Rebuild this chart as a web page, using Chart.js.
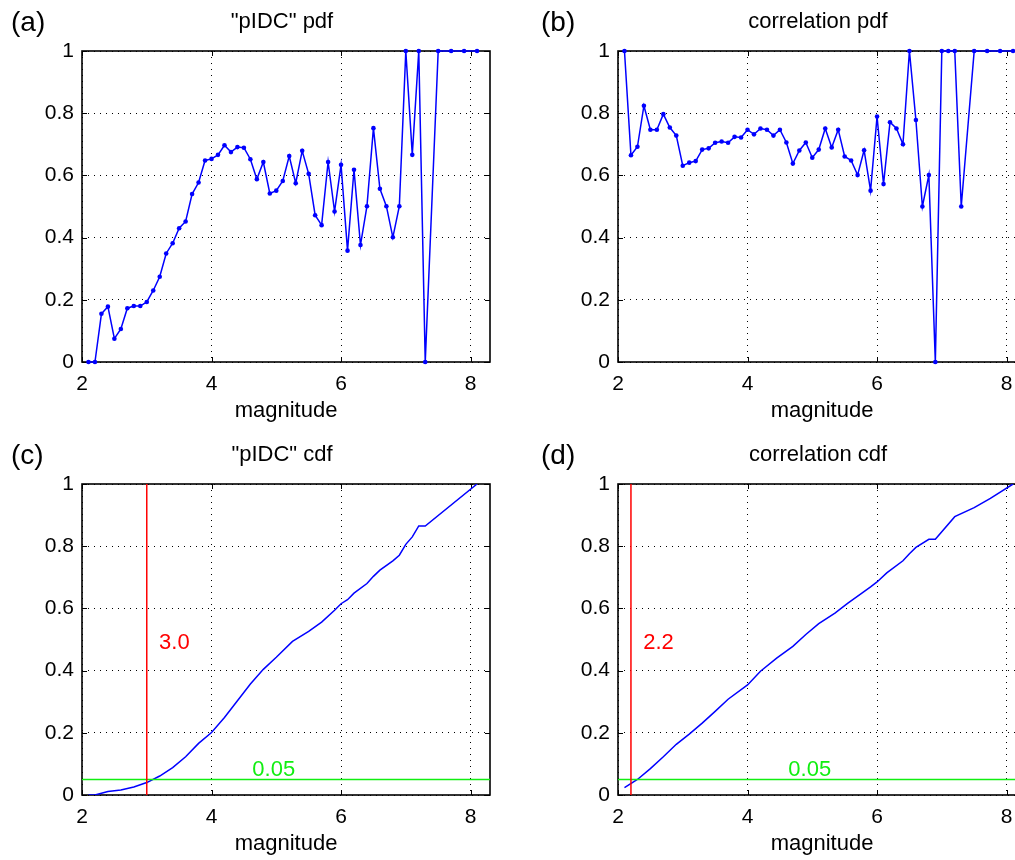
<!DOCTYPE html>
<html>
<head>
<meta charset="utf-8">
<script src="https://cdn.jsdelivr.net/npm/chart.js@4.4.0/dist/chart.umd.min.js"></script>
<style>
  html, body { margin: 0; padding: 0; background: #fff; overflow: hidden; }
  #page { position: relative; width: 1015px; height: 860px; overflow: hidden; }
  .panel { position: absolute; width: 510px; height: 430px; }
</style>
</head>
<body>
<div id="page">
  <div class="panel" style="left:0;top:0"><canvas id="pa"></canvas></div>
  <div class="panel" style="left:536px;top:0"><canvas id="pb"></canvas></div>
  <div class="panel" style="left:0;top:433px"><canvas id="pc"></canvas></div>
  <div class="panel" style="left:536px;top:433px"><canvas id="pd"></canvas></div>
</div>
<script>
// magnitude bins of the pdf panels (no values at 7.4, 7.6, 7.8, 8.0)
const magBins = [2.1, 2.2, 2.3, 2.4, 2.5, 2.6, 2.7, 2.8, 2.9,
  3.0, 3.1, 3.2, 3.3, 3.4, 3.5, 3.6, 3.7, 3.8, 3.9,
  4.0, 4.1, 4.2, 4.3, 4.4, 4.5, 4.6, 4.7, 4.8, 4.9,
  5.0, 5.1, 5.2, 5.3, 5.4, 5.5, 5.6, 5.7, 5.8, 5.9,
  6.0, 6.1, 6.2, 6.3, 6.4, 6.5, 6.6, 6.7, 6.8, 6.9,
  7.0, 7.1, 7.2, 7.3, 7.5, 7.7, 7.9, 8.1];

const pidcPdf = [0, 0, 0.155, 0.178, 0.075, 0.106, 0.173, 0.18, 0.18,
  0.193, 0.23, 0.274, 0.349, 0.382, 0.43, 0.452, 0.54, 0.577, 0.648,
  0.653, 0.666, 0.697, 0.675, 0.691, 0.689, 0.652, 0.588, 0.643, 0.542,
  0.551, 0.582, 0.662, 0.575, 0.679, 0.605, 0.472, 0.44, 0.643, 0.484,
  0.634, 0.358, 0.618, 0.376, 0.501, 0.752, 0.557, 0.501, 0.401, 0.501,
  1, 0.666, 1, 0, 1, 1, 1, 1];

const corrPdf = [1, 0.665, 0.692, 0.824, 0.747, 0.747, 0.797, 0.754, 0.728,
  0.631, 0.641, 0.646, 0.683, 0.687, 0.705, 0.709, 0.705, 0.724, 0.722,
  0.747, 0.732, 0.751, 0.747, 0.728, 0.747, 0.706, 0.638, 0.68, 0.706,
  0.657, 0.683, 0.751, 0.69, 0.747, 0.661, 0.648, 0.601, 0.681, 0.551,
  0.789, 0.572, 0.771, 0.751, 0.70, 1, 0.778, 0.5, 0.601, 0,
  1, 1, 1, 0.5, 1, 1, 1, 1];

// cdf curves
const pidcCdfMag = [2.1, 2.2, 2.4, 2.6, 2.8, 3.0, 3.2, 3.4, 3.6, 3.8, 4.0, 4.2, 4.4, 4.6, 4.8,
  5.0, 5.25, 5.5, 5.7, 5.9, 6.0, 6.1, 6.2, 6.4, 6.5, 6.6, 6.8, 6.9, 7.0, 7.1, 7.2, 7.3, 8.1];
const pidcCdf = [0, 0, 0.011, 0.016, 0.026, 0.04, 0.061, 0.088, 0.123, 0.166, 0.201, 0.249, 0.303, 0.357, 0.404,
  0.443, 0.494, 0.526, 0.556, 0.594, 0.615, 0.628, 0.649, 0.68, 0.703, 0.723, 0.753, 0.771, 0.806, 0.83, 0.865, 0.865, 1.0];

const corrCdfMag = [2.1, 2.3, 2.5, 2.7, 2.9, 3.1, 3.3, 3.5, 3.7, 4.0, 4.2, 4.45, 4.7, 4.9, 5.1,
  5.35, 5.55, 5.75, 5.9, 6.0, 6.15, 6.4, 6.5, 6.6, 6.8, 6.9, 7.2, 7.5, 7.75, 8.1];
const corrCdf = [0.024, 0.05, 0.085, 0.123, 0.163, 0.196, 0.231, 0.269, 0.308, 0.354, 0.398, 0.44, 0.478, 0.516, 0.551,
  0.585, 0.617, 0.647, 0.669, 0.685, 0.714, 0.753, 0.776, 0.796, 0.822, 0.822, 0.895, 0.924, 0.954, 1.0];

const pidcCut = 3.0;
const corrCut = 2.2;
const level = 0.05;

const xMin = 2, xMax = 8.3;
const BLUE = '#0000ff', RED = '#ff0000', GREEN = '#11ee11';
const FONT = '"Liberation Sans", Arial, Helvetica, sans-serif';

Chart.defaults.font.family = FONT;
Chart.defaults.color = '#000';

const toXY = (xs, ys) => xs.map((x, i) => ({x: x, y: ys[i]}));

// box, inward ticks, title, panel letter and text notes (matlab look)
const panelDecor = {
  id: 'panelDecor',
  beforeDatasetsDraw(chart) {
    const {ctx, chartArea: a, scales} = chart;
    ctx.save();
    ctx.strokeStyle = '#000';
    ctx.lineWidth = 1;
    ctx.beginPath();
    scales.x.ticks.forEach(t => {
      const px = Math.round(scales.x.getPixelForValue(t.value)) + 0.5;
      ctx.moveTo(px, a.bottom); ctx.lineTo(px, a.bottom - 5);
      ctx.moveTo(px, a.top); ctx.lineTo(px, a.top + 5);
    });
    scales.y.ticks.forEach(t => {
      const py = Math.round(scales.y.getPixelForValue(t.value)) + 0.5;
      ctx.moveTo(a.left, py); ctx.lineTo(a.left + 5, py);
      ctx.moveTo(a.right, py); ctx.lineTo(a.right - 5, py);
    });
    ctx.stroke();
    ctx.lineWidth = 1.6;
    ctx.strokeRect(a.left, a.top, a.right - a.left, a.bottom - a.top);
    ctx.restore();
  },
  afterDraw(chart, args, o) {
    const {ctx, chartArea: a, scales} = chart;
    ctx.save();
    ctx.fillStyle = '#000';
    ctx.textBaseline = 'middle';
    ctx.textAlign = 'center';
    ctx.font = '22px ' + FONT;
    ctx.fillText(o.title, (a.left + a.right) / 2 - 4, 22);
    ctx.textAlign = 'left';
    ctx.font = '28px ' + FONT;
    ctx.fillText(o.letter, a.left - o.letterGap, 23);
    ctx.textBaseline = 'alphabetic';
    ctx.font = '22px ' + FONT;
    (o.notes || []).forEach(n => {
      ctx.fillStyle = n.color;
      ctx.fillText(n.text, scales.x.getPixelForValue(n.x), scales.y.getPixelForValue(n.y));
    });
    ctx.restore();
  }
};

function makePanel(id, title, letter, letterGap, datasets, notes) {
  new Chart(document.getElementById(id), {
    type: 'line',
    data: {datasets: datasets},
    options: {
      responsive: true,
      maintainAspectRatio: false,
      animation: false,
      layout: {padding: {top: 51, right: 20, left: 0, bottom: 0}},
      plugins: {
        legend: {display: false},
        tooltip: {enabled: false},
        panelDecor: {title: title, letter: letter, letterGap: letterGap, notes: notes}
      },
      scales: {
        x: {
          type: 'linear',
          min: xMin, max: xMax,
          afterFit: s => { s.height = 68; },
          ticks: {stepSize: 2, includeBounds: false, padding: 10, font: {size: 21}},
          grid: {color: '#000', lineWidth: 1, drawTicks: false},
          border: {display: false, dash: [1, 5]},
          title: {display: true, text: 'magnitude', font: {size: 22, lineHeight: 1}, padding: {top: 0, bottom: 8}}
        },
        y: {
          type: 'linear',
          min: 0, max: 1,
          afterFit: s => { s.width = 82; },
          ticks: {stepSize: 0.2, padding: 8, font: {size: 21},
            callback: v => String(Math.round(v * 10) / 10)},
          grid: {color: '#000', lineWidth: 1, drawTicks: false},
          border: {display: false, dash: [1, 5]}
        }
      }
    },
    plugins: [panelDecor]
  });
}

function pdfSet(ys) {
  return {data: toXY(magBins, ys), borderColor: BLUE, backgroundColor: BLUE, borderWidth: 1.5,
    pointRadius: 2.3, pointBorderWidth: 0, pointBackgroundColor: BLUE, tension: 0, clip: false};
}
function cdfSets(xs, ys, cut) {
  return [
    {data: [{x: cut, y: 0}, {x: cut, y: 1}], borderColor: RED, borderWidth: 1.5, pointRadius: 0},
    {data: [{x: xMin, y: level}, {x: xMax, y: level}], borderColor: GREEN, borderWidth: 1.5, pointRadius: 0},
    {data: toXY(xs, ys), borderColor: BLUE, borderWidth: 1.5, pointRadius: 0, tension: 0}
  ];
}

makePanel('pa', '"pIDC" pdf', '(a)', 71, [pdfSet(pidcPdf)]);
makePanel('pb', 'correlation pdf', '(b)', 77, [pdfSet(corrPdf)]);
makePanel('pc', '"pIDC" cdf', '(c)', 71, cdfSets(pidcCdfMag, pidcCdf, pidcCut), [
  {text: pidcCut.toFixed(1), x: pidcCut + 0.19, y: 0.471, color: RED},
  {text: level.toFixed(2), x: 4.63, y: level + 0.011, color: GREEN}
]);
makePanel('pd', 'correlation cdf', '(d)', 77, cdfSets(corrCdfMag, corrCdf, corrCut), [
  {text: corrCut.toFixed(1), x: corrCut + 0.19, y: 0.471, color: RED},
  {text: level.toFixed(2), x: 4.63, y: level + 0.011, color: GREEN}
]);
</script>
</body>
</html>
